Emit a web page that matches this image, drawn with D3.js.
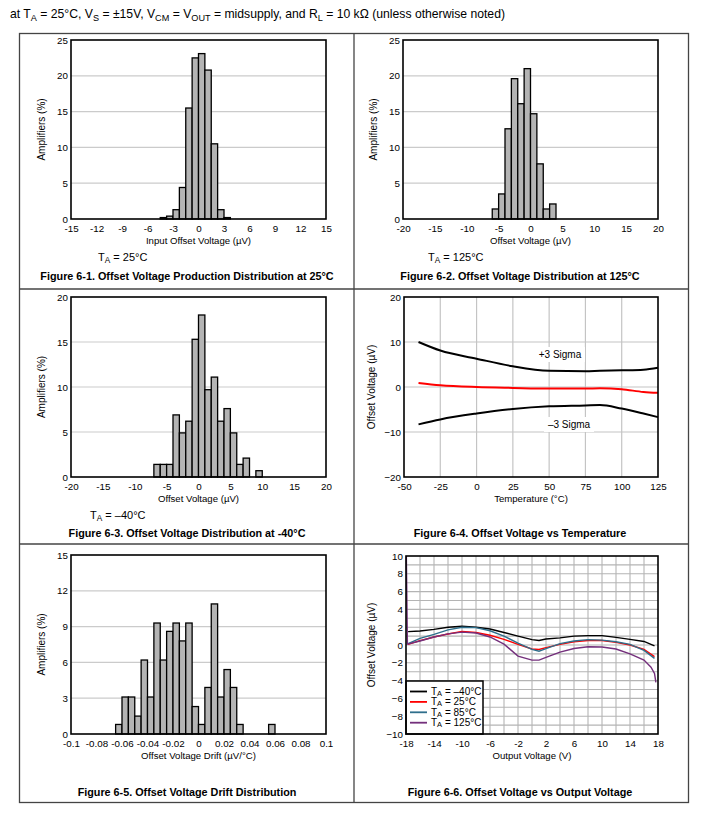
<!DOCTYPE html>
<html>
<head>
<meta charset="utf-8">
<script src="https://cdn.jsdelivr.net/npm/d3@7"></script>
<style>
  body { margin: 0; background: #fff; }
  text { font-family: "Liberation Sans", Arial, sans-serif; fill: #000; }
</style>
</head>
<body>
<svg id="chart" width="712" height="819"></svg>
<script>
// ---- data ----
// Fig 6-1, 25C production distribution (bin left edges in uV, % of amplifiers)
var bins25 = [-4.5, -3.75, -3, -2.25, -1.5, -0.75, 0, 0.75, 1.5, 2.25, 3];
var pct25 = [0.2, 0.4, 1.3, 4.4, 15.5, 22.5, 23.1, 20.8, 10.5, 1.3, 0.2];
var ticks25 = [-15, -12, -9, -6, -3, 0, 3, 6, 9, 12, 15];

// Fig 6-2, 125C
var bins125 = [-6, -5, -4, -3, -2, -1, 0, 1, 2, 3];
var pct125 = [1.4, 3.5, 12.6, 19.6, 16.1, 21.0, 14.7, 7.7, 1.4, 2.1];
var ticks20 = [-20, -15, -10, -5, 0, 5, 10, 15, 20];

// Fig 6-3, -40C
var binsM40 = [-7, -6, -5, -4, -3, -2, -1, 0, 1, 2, 3, 4, 5, 6, 7, 8, 9];
var pctM40 = [1.4, 1.4, 1.4, 6.9, 4.9, 6.2, 15.3, 18.0, 9.7, 11.1, 6.2, 7.6, 4.9, 1.4, 2.1, 0, 0.7];

// Fig 6-4, offset voltage vs temperature
var temps = [-40, -25, 0, 25, 50, 75, 85, 100, 115, 125];
var plus3Sigma = [10.0, 8.1, 6.3, 4.6, 3.6, 3.5, 3.6, 3.7, 3.85, 4.3];
var meanVos = [0.9, 0.4, 0.0, -0.2, -0.35, -0.35, -0.3, -0.5, -1.1, -1.3];
var minus3Sigma = [-8.3, -7.2, -5.9, -4.9, -4.3, -4.1, -4.0, -4.8, -5.9, -6.7];
var tempTicks = [-50, -25, 0, 25, 50, 75, 100, 125];

// Fig 6-5, drift distribution (uV/C)
var binsDrift = [-0.065, -0.06, -0.055, -0.05, -0.045, -0.04, -0.035, -0.03, -0.025, -0.02, -0.015, -0.01, -0.005,
                 0, 0.005, 0.01, 0.015, 0.02, 0.025, 0.03, 0.035, 0.04, 0.045, 0.05, 0.055];
var pctDrift = [0.8, 3.1, 3.1, 1.5, 6.2, 3.1, 9.3, 6.2, 8.6, 9.3, 7.8, 9.3, 2.3,
                0.8, 3.9, 10.9, 3.1, 5.4, 3.9, 0.8, 0, 0, 0, 0, 0.8];
var driftTicks = [-0.1, -0.08, -0.06, -0.04, -0.02, 0, 0.02, 0.04, 0.06, 0.08, 0.1];

// Fig 6-6, offset voltage vs output voltage
var vout = [-17.7, -16, -14, -12, -10, -8, -6, -4, -2, 0, 1, 2, 4, 6, 8, 10, 12, 14, 16, 17.5];
var vosM40 = [1.5, 1.57, 1.75, 2.0, 2.1, 2.0, 1.8, 1.4, 1.0, 0.6, 0.5, 0.67, 0.8, 1.0, 1.05, 1.05, 0.86, 0.63, 0.4, -0.1];
var vos25 = [0.07, 0.5, 0.9, 1.23, 1.53, 1.4, 1.1, 0.63, 0.07, -0.45, -0.5, -0.3, 0.07, 0.37, 0.5, 0.5, 0.3, 0.0, -0.5, -1.3];
var vos85 = [0.15, 0.75, 1.2, 1.7, 2.0, 1.95, 1.6, 1.0, 0.2, -0.5, -0.7, -0.4, 0.15, 0.45, 0.6, 0.55, 0.37, 0.07, -0.6, -1.5];
var vout125 = [-17.95, -17.8, -16, -14, -12, -10, -8, -6, -4, -2, 0, 1, 2, 4, 6, 8, 10, 12, 14, 16, 17, 17.5, 17.7];
var vos125 = [10, 0.1, 0.45, 0.9, 1.25, 1.45, 1.35, 0.9, 0.1, -1.25, -1.7, -1.7, -1.4, -0.8, -0.4, -0.2, -0.22, -0.45, -1.0, -1.7, -2.5, -3.2, -4.2];
var voutTicks = [-18, -14, -10, -6, -2, 2, 6, 10, 14, 18];
var voutLegend = ['\u201340\u00b0C', '25\u00b0C', '85\u00b0C', '125\u00b0C'];

var svg = d3.select('#chart');

// text with subscripts: parts = [[str, isSub], ...]
function richText(g, x, y, parts, size, anchor, subShift) {
  var shift = size * (subShift || 0.22);
  var t = g.append('text').attr('x', x).attr('y', y)
    .attr('font-size', size).attr('text-anchor', anchor || 'start');
  var inSub = false;
  parts.forEach(function(p) {
    var s = t.append('tspan').text(p[0]);
    if (p[1]) {
      s.attr('font-size', size * 0.75);
      if (!inSub) { s.attr('dy', shift); inSub = true; }
    } else if (inSub) {
      s.attr('dy', -shift); inSub = false;
    }
  });
  return t;
}

// header + table frame
richText(svg, 10, 18, [['at T'], ['A', 1], [' = 25\u00b0C, V'], ['S', 1], [' = \u00b115V, V'], ['CM', 1], [' = V'], ['OUT', 1],
  [' = midsupply, and R'], ['L', 1], [' = 10 k\u03a9 (unless otherwise noted)']], 12.2);

var frame = svg.append('g').attr('stroke', '#444').attr('stroke-width', 1.3).attr('fill', 'none');
frame.append('rect').attr('x', 19.5).attr('y', 33.5).attr('width', 669).attr('height', 769);
frame.append('line').attr('x1', 354).attr('x2', 354).attr('y1', 33.5).attr('y2', 802.5);
frame.append('line').attr('x1', 19.5).attr('x2', 688.5).attr('y1', 289).attr('y2', 289);
frame.append('line').attr('x1', 19.5).attr('x2', 688.5).attr('y1', 544).attr('y2', 544);

function caption(x, y, str) {
  svg.append('text').attr('x', x).attr('y', y).attr('text-anchor', 'middle')
    .attr('font-size', 10.8).attr('font-weight', 'bold')
    .attr('font-family', '"Liberation Sans Narrow", "Arial Narrow", "Liberation Sans", sans-serif')
    .text(str);
}

// generic axes frame for a panel
function axesPanel(box, x, y, xTicks, yTicks, opt) {
  var g = svg.append('g');
  var grid = g.append('g').attr('stroke', opt.gridColor || '#cbcbcb').attr('stroke-width', opt.gridWidth || 1.2);
  (opt.yGrid || yTicks).forEach(function(v) {
    grid.append('line').attr('x1', box.x0).attr('x2', box.x1).attr('y1', y(v)).attr('y2', y(v));
  });
  if (opt.xGrid) {
    opt.xGrid.forEach(function(v) {
      grid.append('line').attr('y1', box.y0).attr('y2', box.y1).attr('x1', x(v)).attr('x2', x(v));
    });
  }
  var marks = g.append('g');
  var top = g.append('g');
  top.append('rect').attr('x', box.x0).attr('y', box.y0)
    .attr('width', box.x1 - box.x0).attr('height', box.y1 - box.y0)
    .attr('fill', 'none').attr('stroke', '#000').attr('stroke-width', 1.6);

  var fmt = opt.fmt || function(d) { return String(d); };
  var xa = d3.axisBottom(x).tickValues(xTicks).tickSize(0).tickPadding(6).tickFormat(fmt);
  var ya = d3.axisLeft(y).tickValues(yTicks).tickSize(0).tickPadding(3);
  var xg = top.append('g').attr('transform', 'translate(0,' + box.y1 + ')').call(xa);
  var yg = top.append('g').attr('transform', 'translate(' + box.x0 + ',0)').call(ya);
  [xg, yg].forEach(function(a) {
    a.select('.domain').remove();
    a.selectAll('text').attr('font-size', 9.8).style('fill', '#000');
    a.attr('font-family', null).attr('font-size', null);
  });

  top.append('text').attr('x', (box.x0 + box.x1) / 2).attr('y', box.y1 + 25)
    .attr('text-anchor', 'middle').attr('font-size', 9.6).text(opt.xTitle);
  top.append('text')
    .attr('transform', 'translate(' + (box.x0 - (opt.yTitleOff || 26)) + ',' + ((box.y0 + box.y1) / 2) + ') rotate(-90)')
    .attr('text-anchor', 'middle').attr('font-size', 10).text(opt.yTitle);
  return marks;
}

function histPanel(box, xDomain, xTicks, yTicks, bins, width, pct, xTitle, fmt) {
  var x = d3.scaleLinear().domain(xDomain).range([box.x0, box.x1]);
  var y = d3.scaleLinear().domain([yTicks[0], yTicks[yTicks.length - 1]]).range([box.y1, box.y0]);
  var marks = axesPanel(box, x, y, xTicks, yTicks, {
    yGrid: yTicks.slice(1, -1), xTitle: xTitle, yTitle: 'Amplifiers (%)', fmt: fmt
  });
  marks.selectAll('rect').data(bins).join('rect')
    .attr('x', function(d) { return x(d); })
    .attr('width', function(d) { return x(d + width) - x(d); })
    .attr('y', function(d, i) { return y(pct[i]); })
    .attr('height', function(d, i) { return y(0) - y(pct[i]); })
    .attr('fill', '#b4b4b4').attr('stroke', '#000').attr('stroke-width', 1.3);
}

// Fig 6-1
histPanel({x0: 71, y0: 40, x1: 326, y1: 219}, [-15, 15], ticks25, [0, 5, 10, 15, 20, 25],
  bins25, 0.75, pct25, 'Input Offset Voltage (\u00b5V)');
richText(svg, 98, 261, [['T'], ['A', 1], [' = 25\u00b0C']], 11);
caption(187, 280, 'Figure 6-1. Offset Voltage Production Distribution at 25\u00b0C');

// Fig 6-2
histPanel({x0: 403, y0: 40, x1: 658, y1: 219}, [-20, 20], ticks20, [0, 5, 10, 15, 20, 25],
  bins125, 1, pct125, 'Offset Voltage (\u00b5V)');
richText(svg, 428, 261, [['T'], ['A', 1], [' = 125\u00b0C']], 11);
caption(520, 280, 'Figure 6-2. Offset Voltage Distribution at 125\u00b0C');

// Fig 6-3
histPanel({x0: 71, y0: 297, x1: 326, y1: 477}, [-20, 20], ticks20, [0, 5, 10, 15, 20],
  binsM40, 1, pctM40, 'Offset Voltage (\u00b5V)');
richText(svg, 90, 519, [['T'], ['A', 1], [' = \u201340\u00b0C']], 11);
caption(187, 537, 'Figure 6-3. Offset Voltage Distribution at -40\u00b0C');

// Fig 6-4
(function() {
  var box = {x0: 404, y0: 297, x1: 658, y1: 477};
  var x = d3.scaleLinear().domain([-50, 125]).range([box.x0, box.x1]);
  var y = d3.scaleLinear().domain([-20, 20]).range([box.y1, box.y0]);
  var marks = axesPanel(box, x, y, tempTicks, [-20, -10, 0, 10, 20], {
    yGrid: [-10, 0, 10], xGrid: tempTicks.slice(1, -1), gridColor: '#c4c4c4',
    xTitle: 'Temperature (\u00b0C)', yTitle: 'Offset Voltage (\u00b5V)', yTitleOff: 29
  });
  var line = d3.line().x(function(d, i) { return x(temps[i]); }).y(function(d) { return y(d); })
    .curve(d3.curveMonotoneX);
  [[plus3Sigma, '#000'], [minus3Sigma, '#000'], [meanVos, '#f00']].forEach(function(s) {
    marks.append('path').attr('d', line(s[0])).attr('fill', 'none')
      .attr('stroke', s[1]).attr('stroke-width', 2);
  });
  [['+3 Sigma', 560, 358], ['\u20133 Sigma', 569, 428]].forEach(function(l) {
    marks.append('rect').attr('x', l[1] - 25).attr('y', l[2] - 11).attr('width', 50).attr('height', 15).attr('fill', '#fff');
    marks.append('text').attr('x', l[1]).attr('y', l[2]).attr('text-anchor', 'middle')
      .attr('font-size', 10).text(l[0]);
  });
  caption(520, 537, 'Figure 6-4. Offset Voltage vs Temperature');
})();

// Fig 6-5
histPanel({x0: 71, y0: 555, x1: 326, y1: 734}, [-0.1, 0.1], driftTicks, [0, 3, 6, 9, 12, 15],
  binsDrift, 0.005, pctDrift, 'Offset Voltage Drift (\u00b5V/\u00b0C)',
  function(d) { return String(+d.toFixed(2)); });
caption(187, 796, 'Figure 6-5. Offset Voltage Drift Distribution');

// Fig 6-6
(function() {
  var box = {x0: 406, y0: 556, x1: 658, y1: 734};
  var x = d3.scaleLinear().domain([-18, 18]).range([box.x0, box.x1]);
  var y = d3.scaleLinear().domain([-10, 10]).range([box.y1, box.y0]);
  var yTicks = d3.range(-10, 11, 2);
  var marks = axesPanel(box, x, y, voutTicks, yTicks, {
    yGrid: d3.range(-9, 10, 1), xGrid: d3.range(-16, 17, 2), gridColor: '#b4b4b4', gridWidth: 1.1,
    xTitle: 'Output Voltage (V)', yTitle: 'Offset Voltage (\u00b5V)', yTitleOff: 31
  });
  var series = [
    [vout, vosM40, '#000'],
    [vout, vos25, '#f00'],
    [vout, vos85, '#2f6f8c'],
    [vout125, vos125, '#74307c']
  ];
  series.forEach(function(s) {
    var line = d3.line().x(function(d, i) { return x(s[0][i]); }).y(function(d) { return y(d); });
    marks.append('path').attr('d', line(s[1])).attr('fill', 'none')
      .attr('stroke', s[2]).attr('stroke-width', 1.4);
  });
  var lg = marks.append('g');
  lg.append('rect').attr('x', box.x0).attr('y', 681).attr('width', 77).attr('height', box.y1 - 681)
    .attr('fill', '#fff').attr('stroke', '#000').attr('stroke-width', 1.5);
  series.forEach(function(s, i) {
    var yy = 691.5 + i * 10.4;
    lg.append('line').attr('x1', 410).attr('x2', 427).attr('y1', yy).attr('y2', yy)
      .attr('stroke', s[2]).attr('stroke-width', 1.8);
    richText(lg, 431, yy + 3.2, [['T'], ['A', 1], [' = ' + voutLegend[i]]], 10, 'start', 0.12);
  });
  caption(520, 796, 'Figure 6-6. Offset Voltage vs Output Voltage');
})();
</script>
</body>
</html>
